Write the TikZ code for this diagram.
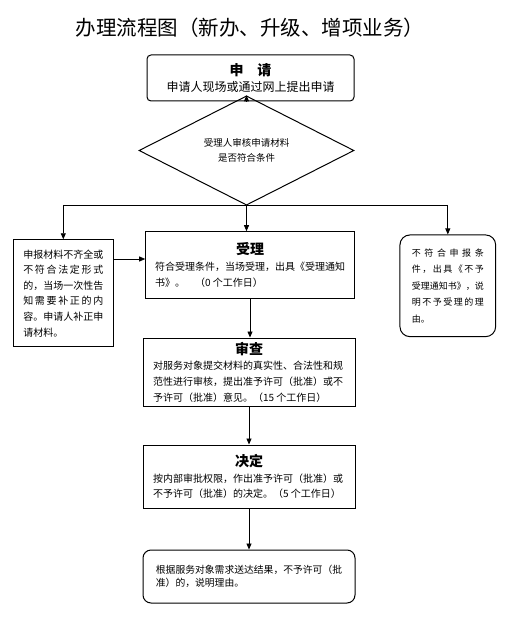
\documentclass[tikz,border=0pt]{standalone}
\usepackage{fontspec}
\setmainfont{Noto Sans CJK SC}
\usetikzlibrary{shapes.geometric,arrows.meta}
% spread one line of characters over a given width
\def\sprd#1{\ifx\relax#1\else\hfil#1\expandafter\sprd\fi}
\newcommand\jline[2]{\hbox to #1{\hskip 0pt plus -1fil\sprd#2\relax}}

\begin{document}
\begin{tikzpicture}[x=1pt,y=-1pt,>={Triangle[length=6pt,width=5pt]},
  box/.style={draw,line width=1pt,inner sep=0pt,align=left,font=\fontsize{10}{15.6}\selectfont},
  head/.style={font=\fontsize{14}{16}\selectfont\bfseries},
  line/.style={line width=0.8pt}]
\useasboundingbox (0,0) rectangle (509,617);

\node (title) at (250,28) {\fontsize{20.5}{24}\selectfont 办理流程图（新办、升级、增项业务）};

\node[box,align=center,rounded corners=4pt,minimum width=207,minimum height=46,font=\fontsize{12}{16}\selectfont]
  (apply) at (250.5,78) {{\fontsize{14}{16}\selectfont\bfseries 申\quad 请}\\申请人现场或通过网上提出申请};

\node[box,diamond,align=center,minimum width=215,minimum height=69,font=\fontsize{9.5}{15}\selectfont]
  (check) at (246.5,150.5) {受理人审核申请材料\\是否符合条件};

\node[box,minimum width=100,minimum height=107] (lack) at (63.3,293.3) {%
  \jline{80pt}{申报材料不齐全或}\\
  \jline{80pt}{不符合法定形式}\\
  \jline{80pt}{的，当场一次性告}\\
  \jline{80pt}{知需要补正的内}\\
  \jline{80pt}{容。申请人补正申}\\
  请材料。};

\node[box,minimum width=208.6,minimum height=66.6] (accept) at (250,265) {%
  \makebox[190pt]{\fontsize{14}{16}\selectfont\bfseries 受理}\\
  符合受理条件，当场受理，出具《受理通知\\
  书》。\quad （0 个工作日）};

\node[box,rounded corners=10pt,minimum width=95.7,minimum height=101.7,font=\fontsize{9}{16.5}\selectfont]
  (reject) at (447.8,285.8) {%
  \jline{72pt}{不符合申报条}\\
  \jline{72pt}{件，出具《不予}\\
  \jline{72pt}{受理通知书》，说}\\
  \jline{72pt}{明不予受理的理}\\
  由。};

\node[box,minimum width=212,minimum height=68] (review) at (249,372) {%
  \makebox[192pt]{\fontsize{14}{16}\selectfont\bfseries 审查}\\
  对服务对象提交材料的真实性、合法性和规\\
  范性进行审核，提出准予许可（批准）或不\\
  予许可（批准）意见。（15 个工作日）};

\node[box,minimum width=212,minimum height=63] (decide) at (249,476.5) {%
  \makebox[192pt]{\fontsize{14}{16}\selectfont\bfseries 决定}\\
  按内部审批权限，作出准予许可（批准）或\\
  不予许可（批准）的决定。（5 个工作日）};

\node[box,rounded corners=8pt,minimum width=212,minimum height=53,font=\fontsize{9.8}{13.5}\selectfont]
  (final) at (249,576.5) {%
  根据服务对象需求送达结果，不予许可（批\\
  准）的，说明理由。};

% connectors
\coordinate (split) at (246.5,205);
\coordinate (mid) at ([yshift=6pt]accept.west);
\draw[line,->] (check.north |- apply.south) -- (check.north);
\draw[line] (check.south) -- (split);
\draw[line] (lack.north |- split) -- (reject.north |- split);
\draw[line,->] (lack.north |- split) -- (lack.north);
\draw[line,->] (split) -- (split |- accept.north);
\draw[line,->] (reject.north |- split) -- (reject.north);
\draw[line,->] (lack.east |- mid) -- (mid);
\draw[line,->] (accept.south) -- (accept.south |- review.north);
\draw[line,->] (review.south) -- (decide.north);
\draw[line,->] (decide.south) -- (final.north);
\end{tikzpicture}
\end{document}
